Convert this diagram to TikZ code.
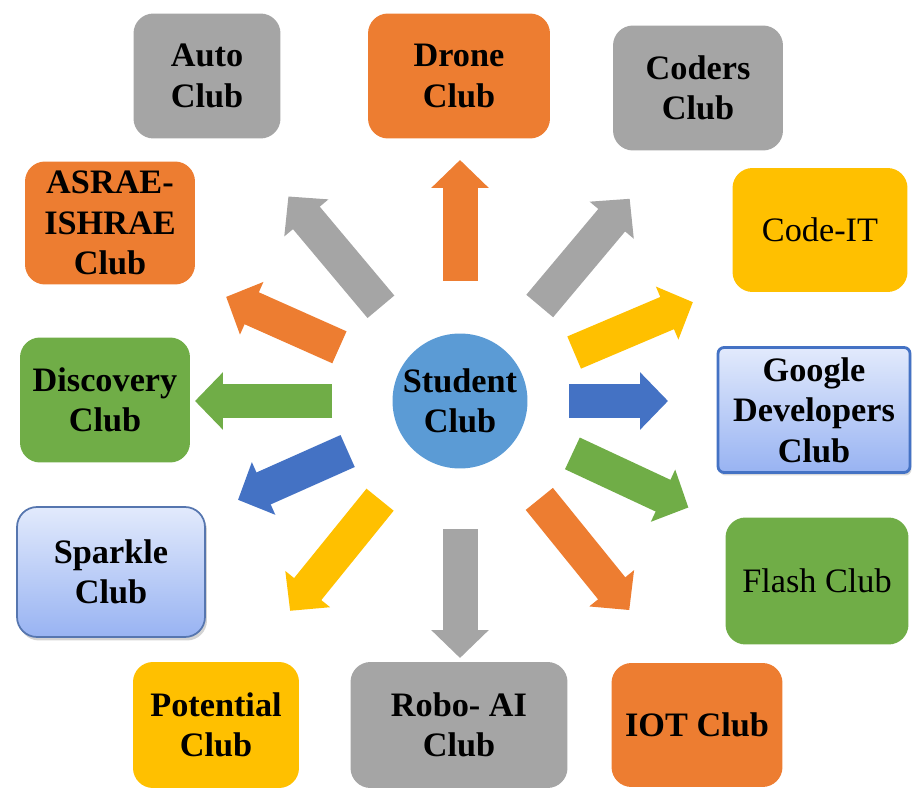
\documentclass[tikz,border=0pt]{standalone}
\usepackage{fontspec}
\setmainfont{Liberation Serif}
\usetikzlibrary{arrows.meta, shadows}

\definecolor{clubOrange}{HTML}{ED7D31}
\definecolor{clubGray}{HTML}{A5A5A5}
\definecolor{clubYellow}{HTML}{FFC000}
\definecolor{clubGreen}{HTML}{70AD47}
\definecolor{clubBlue}{HTML}{4472C4}
\definecolor{clubCircle}{HTML}{5B9BD5}
\definecolor{paleTop}{HTML}{E2EAFC}
\definecolor{paleBot}{HTML}{98B3F2}

\newcommand{\clubfont}{\fontsize{19.5}{23}\selectfont}

\begin{document}
\begin{tikzpicture}[x=0.02cm, y=0.02cm,
		every node/.style={font=\clubfont\bfseries, align=center, text=black},
		club/.style={rounded corners=0.4cm, minimum height=2.5cm, inner sep=2pt},
		plain/.style={font=\clubfont},
		fat/.style={line width=0.7cm, -{Triangle[width=1.12cm, length=0.56cm]}}]
		
		\useasboundingbox (0,0) rectangle (922,795);
		
		% Centre
		\node[circle, fill=clubCircle, minimum size=2.7cm, inner sep=0pt] (sc) at (460,394) {Student\\Club};
		
		% Clubs, top row
		\node[club, fill=clubGray, minimum width=2.94cm] (auto) at (207,719) {Auto\\Club};
		\node[club, fill=clubOrange, minimum width=3.64cm] (drone) at (459,719) {Drone\\Club};
		\node[club, fill=clubGray, minimum width=3.4cm] (coders) at (698,707) {Coders\\Club};
		
		% Left side
		\node[club, fill=clubOrange, minimum width=3.4cm, minimum height=2.46cm] (asrae) at (110,572) {ASRAE-\\ISHRAE\\Club};
		\node[club, fill=clubGreen, minimum width=3.4cm] (discovery) at (105,395) {Discovery\\Club};
		\node[club, draw=clubBlue!70!gray, line width=1pt, top color=paleTop, bottom color=paleBot,
			minimum width=3.76cm, minimum height=2.6cm,
			drop shadow={opacity=0.35, shadow xshift=0.04cm, shadow yshift=-0.07cm}] (sparkle) at (111,223) {Sparkle\\Club};
		
		% Right side
		\node[club, plain, fill=clubYellow, minimum width=3.5cm, minimum height=2.48cm] (codeit) at (820,565) {Code-IT};
		\node[rounded corners=0.12cm, draw=clubBlue, line width=1.6pt, top color=paleTop, bottom color=paleBot,
			minimum width=3.84cm, minimum height=2.5cm, inner sep=2pt,
			drop shadow={opacity=0.3, shadow xshift=0.03cm, shadow yshift=-0.06cm}] (google) at (814,385) {Google\\Developers\\Club};
		\node[club, plain, fill=clubGreen, minimum width=3.66cm, minimum height=2.54cm] (flash) at (817,214) {Flash Club};
		
		% Bottom row
		\node[club, fill=clubYellow, minimum width=3.32cm, minimum height=2.52cm] (potential) at (216,70) {Potential\\Club};
		\node[club, fill=clubGray, minimum width=4.34cm, minimum height=2.52cm] (robo) at (459,70) {Robo- AI\\Club};
		\node[club, fill=clubOrange, minimum width=3.42cm, minimum height=2.48cm] (iot) at (697,70) {IOT Club};
		
		% Block arrows out of the centre
		\foreach \ang/\r/\len/\col in {90/120/121/clubOrange, 130/123/144/clubGray, 156/132/124/clubOrange,
			180/128/137/clubGreen, 204/123/120/clubBlue, 231/127/143/clubYellow, 270/128/129/clubGray,
			309/126/143/clubOrange, 335/124/128/clubGreen, 0/109/99/clubBlue, 23/124/129/clubYellow,
			50/124/140/clubGray}
		\draw[fat, color=\col] (sc.center) ++(\ang:\r) -- ++(\ang:\len);
		
\end{tikzpicture}
\end{document}
